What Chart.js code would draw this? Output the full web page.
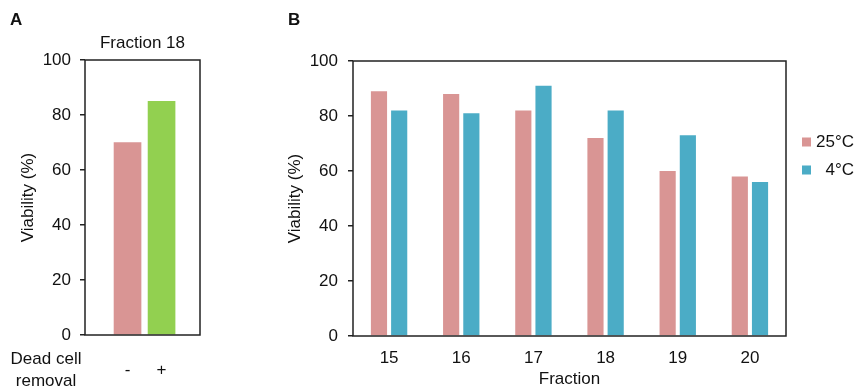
<!DOCTYPE html>
<html lang="en">
<head>
    <meta charset="UTF-8">
    <title>Viability by fraction</title>
    <script src="https://cdn.jsdelivr.net/npm/chart.js"></script>
    <style>
        body { margin: 0; background: #fff; }
        #wrapA { position: absolute; left: 0; top: 0; }
        #wrapB { position: absolute; left: 240px; top: 0; }
    </style>
</head>
<body>
    <div id="wrapA"><canvas id="chartA" width="240" height="388"></canvas></div>
    <div id="wrapB"><canvas id="chartB" width="617" height="388"></canvas></div>
    <script>
        // panel A: fraction 18, with / without dead cell removal
        const removalLabels = ['-', '+'];
        const viabilityA = [70, 85];

        // panel B: fractions 15-20 at two temperatures
        const fractions = ['15', '16', '17', '18', '19', '20'];
        const tempLabels = ['25°C', '4°C'];
        const viability25 = [89, 88, 82, 72, 60, 58];
        const viability4 = [82, 81, 91, 82, 73, 56];

        const PINK = '#d99594';
        const GREEN = '#92d050';
        const BLUE = '#4bacc6';
        const INK = '#111';
        const LINE = '#222';

        Chart.defaults.font.family = "'Liberation Sans', Arial, sans-serif";
        Chart.defaults.font.size = 17;
        Chart.defaults.color = INK;
        Chart.defaults.animation = false;

        // box around the plot area
        const frameBox = {
            id: 'frameBox',
            afterDatasetsDraw(chart) {
                const { ctx, chartArea: a } = chart;
                ctx.save();
                ctx.strokeStyle = LINE;
                ctx.lineWidth = 1.5;
                ctx.strokeRect(a.left, a.top, a.right - a.left, a.bottom - a.top);
                ctx.restore();
            }
        };

        // extra texts: panel letter and free labels
        const extraText = {
            id: 'extraText',
            afterDraw(chart, args, opts) {
                const ctx = chart.ctx;
                ctx.save();
                ctx.fillStyle = INK;
                ctx.textBaseline = 'middle';
                ctx.font = "bold 17px 'Liberation Sans', Arial, sans-serif";
                ctx.textAlign = 'left';
                ctx.fillText(opts.letter, opts.letterX, 20);
                ctx.font = "17px 'Liberation Sans', Arial, sans-serif";
                ctx.textAlign = 'center';
                (opts.lines || []).forEach(l => ctx.fillText(l.text, l.x, l.y));
                ctx.restore();
            }
        };

        // legend drawn to the right of panel B
        const sideLegend = {
            id: 'sideLegend',
            afterDraw(chart) {
                const { ctx, chartArea: a } = chart;
                ctx.save();
                ctx.font = "17px 'Liberation Sans', Arial, sans-serif";
                ctx.textBaseline = 'middle';
                ctx.textAlign = 'right';
                chart.data.datasets.forEach((ds, i) => {
                    const y = 142 + i * 28;
                    ctx.fillStyle = ds.backgroundColor;
                    ctx.fillRect(a.right + 16, y - 4.5, 9, 9);
                    ctx.fillStyle = INK;
                    ctx.fillText(ds.label, a.right + 68, y);
                });
                ctx.restore();
            }
        };

        function yAxis(width, tickPad, titlePad) {
            return {
                min: 0,
                max: 100,
                ticks: { stepSize: 20, padding: tickPad, color: INK },
                grid: { drawOnChartArea: false, drawTicks: true, tickLength: 5, color: LINE, lineWidth: 1.5 },
                border: { display: false },
                title: { display: true, text: 'Viability (%)', color: INK, padding: { top: titlePad, bottom: 0 } },
                afterFit(scale) { scale.width = width; }
            };
        }

        new Chart(document.getElementById('chartA'), {
            type: 'bar',
            data: {
                datasets: [{
                    data: viabilityA.map((v, i) => ({ x: i, y: v })),
                    backgroundColor: [PINK, GREEN],
                    barThickness: 27
                }]
            },
            options: {
                responsive: false,
                layout: { padding: { left: 0, right: 40, top: 0, bottom: 0 } },
                plugins: {
                    legend: { display: false },
                    tooltip: { enabled: false },
                    title: {
                        display: true,
                        text: 'Fraction 18',
                        fullSize: false,
                        color: INK,
                        font: { size: 17, weight: 'normal' },
                        padding: { top: 33, bottom: 6.6 }
                    },
                    extraText: {
                        letter: 'A',
                        letterX: 10,
                        lines: [
                            { text: 'Dead cell', x: 46, y: 359 },
                            { text: 'removal', x: 46, y: 381 }
                        ]
                    }
                },
                scales: {
                    x: {
                        type: 'linear',
                        offset: false,
                        min: -1.25,
                        max: 2.13,
                        afterBuildTicks(scale) {
                            scale.ticks = removalLabels.map((_, i) => ({ value: i }));
                        },
                        ticks: {
                            padding: 17,
                            color: INK,
                            callback: v => removalLabels[v]
                        },
                        grid: { display: false },
                        border: { display: false },
                        afterFit(scale) { scale.height = 53; }
                    },
                    y: yAxis(85, 9, 18)
                }
            },
            plugins: [frameBox, extraText]
        });

        new Chart(document.getElementById('chartB'), {
            type: 'bar',
            data: {
                labels: fractions,
                datasets: [
                    { label: tempLabels[0], data: viability25, backgroundColor: PINK },
                    { label: tempLabels[1], data: viability4, backgroundColor: BLUE }
                ]
            },
            options: {
                responsive: false,
                categoryPercentage: 0.56,
                barPercentage: 0.8,
                layout: { padding: { left: 0, right: 71, top: 61, bottom: 0 } },
                plugins: {
                    legend: { display: false },
                    tooltip: { enabled: false },
                    extraText: { letter: 'B', letterX: 48 }
                },
                scales: {
                    x: {
                        ticks: { padding: 4.5, color: INK },
                        grid: { display: false },
                        border: { display: false },
                        title: { display: true, text: 'Fraction', color: INK, padding: { top: 0, bottom: -2 } },
                        afterFit(scale) { scale.height = 52; }
                    },
                    y: yAxis(113, 10, 45)
                }
            },
            plugins: [frameBox, extraText, sideLegend]
        });
    </script>
</body>
</html>
